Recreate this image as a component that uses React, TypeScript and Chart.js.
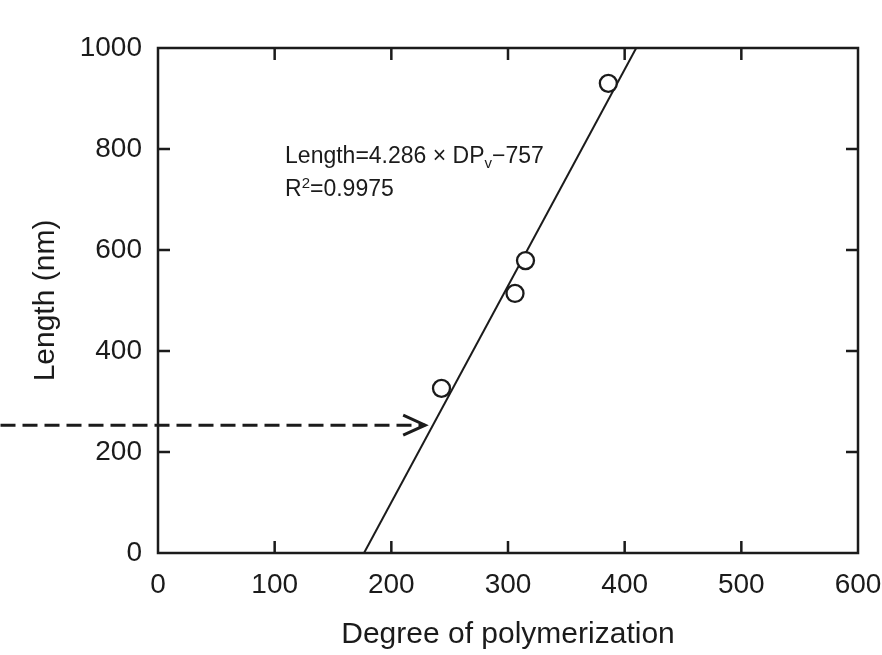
import React, { useEffect, useRef } from 'react';
import { Chart, registerables } from 'chart.js';

Chart.register(...registerables);

const FONT = '"Liberation Sans", Arial, Helvetica, sans-serif';
const INK = '#1b1b1b';

// Measured samples
const dpValues = [243, 306, 315, 386];
const lengthValues = [326, 514, 579, 930];

// Fitted line endpoints (Length = 4.286 × DPv − 757)
const fitX = [176.6, 409.9];
const fitY = [0, 1000];

// Dashed arrow (reading of 253 nm)
const arrowX = [-135, 229];
const arrowY = [253, 253];

// Tick values
const xTickValues = [0, 100, 200, 300, 400, 500, 600];
const yTickValues = [0, 200, 400, 600, 800, 1000];

// Annotation anchors (data coordinates)
const eqAnchor = { x: 108.9, y: 772 };
const r2Anchor = { x: 108.9, y: 706 };
const eqMain = 'Length=4.286 × DP';
const eqSub = 'v';
const eqTail = '−757';
const r2Main = 'R';
const r2Sup = '2';
const r2Tail = '=0.9975';

export default function App() {
  const ref = useRef<HTMLCanvasElement>(null);

  useEffect(() => {
    document.body.style.margin = '0';
    const canvas = ref.current;
    if (!canvas) return;

    const decorPlugin = {
      id: 'decor',
      afterDraw(chart: any) {
        const { ctx, chartArea: a, scales } = chart;
        const xs = scales.x;
        const ys = scales.y;
        const TL = 12;
        ctx.save();
        ctx.strokeStyle = INK;
        ctx.lineWidth = 2.5;
        ctx.setLineDash([]);
        ctx.strokeRect(a.left, a.top, a.right - a.left, a.bottom - a.top);
        ctx.beginPath();
        for (const v of xTickValues) {
          const px = xs.getPixelForValue(v);
          if (Math.abs(px - a.left) < 1 || Math.abs(px - a.right) < 1) continue;
          ctx.moveTo(px, a.bottom);
          ctx.lineTo(px, a.bottom - TL);
          ctx.moveTo(px, a.top);
          ctx.lineTo(px, a.top + TL);
        }
        for (const v of yTickValues) {
          const py = ys.getPixelForValue(v);
          if (Math.abs(py - a.top) < 1 || Math.abs(py - a.bottom) < 1) continue;
          ctx.moveTo(a.left, py);
          ctx.lineTo(a.left + TL, py);
          ctx.moveTo(a.right, py);
          ctx.lineTo(a.right - TL, py);
        }
        ctx.stroke();

        // arrow head
        const tx = xs.getPixelForValue(arrowX[1]);
        const ty = ys.getPixelForValue(arrowY[1]);
        ctx.lineWidth = 3;
        ctx.lineJoin = 'miter';
        ctx.beginPath();
        ctx.moveTo(tx - 22, ty - 10);
        ctx.lineTo(tx, ty);
        ctx.lineTo(tx - 22, ty + 10);
        ctx.stroke();

        // annotation text
        ctx.fillStyle = INK;
        ctx.textBaseline = 'alphabetic';
        ctx.textAlign = 'left';
        const big = `23px ${FONT}`;
        const small = `15px ${FONT}`;
        let x = xs.getPixelForValue(eqAnchor.x);
        let y = ys.getPixelForValue(eqAnchor.y);
        ctx.font = big;
        ctx.fillText(eqMain, x, y);
        x += ctx.measureText(eqMain).width;
        ctx.font = small;
        ctx.fillText(eqSub, x, y + 5);
        x += ctx.measureText(eqSub).width;
        ctx.font = big;
        ctx.fillText(eqTail, x, y);

        x = xs.getPixelForValue(r2Anchor.x);
        y = ys.getPixelForValue(r2Anchor.y);
        ctx.font = big;
        ctx.fillText(r2Main, x, y);
        x += ctx.measureText(r2Main).width;
        ctx.font = small;
        ctx.fillText(r2Sup, x, y - 8);
        x += ctx.measureText(r2Sup).width;
        ctx.font = big;
        ctx.fillText(r2Tail, x, y);
        ctx.restore();
      },
    };

    const chart = new Chart(canvas, {
      type: 'scatter',
      data: {
        datasets: [
          {
            label: 'samples',
            data: dpValues.map((v, i) => ({ x: v, y: lengthValues[i] })),
            pointRadius: 8.5,
            pointHoverRadius: 8.5,
            pointBorderWidth: 2.3,
            borderColor: INK,
            backgroundColor: '#ffffff',
            pointBackgroundColor: '#ffffff',
            pointBorderColor: INK,
          },
          {
            label: 'fit',
            data: fitX.map((v, i) => ({ x: v, y: fitY[i] })),
            showLine: true,
            pointRadius: 0,
            borderColor: INK,
            borderWidth: 2,
          },
          {
            label: 'arrow',
            data: arrowX.map((v, i) => ({ x: v, y: arrowY[i] })),
            showLine: true,
            pointRadius: 0,
            borderColor: INK,
            borderWidth: 3,
            borderDash: [15, 7],
            clip: false as any,
          },
        ],
      },
      options: {
        animation: false,
        responsive: false,
        events: [],
        layout: { padding: { left: 0, top: 48, right: 24, bottom: 0 } },
        plugins: { legend: { display: false }, tooltip: { enabled: false } },
        scales: {
          x: {
            type: 'linear',
            min: 0,
            max: 600,
            afterBuildTicks: (s: any) => {
              s.ticks = xTickValues.map((v) => ({ value: v }));
            },
            afterFit: (s: any) => {
              s.height = 102;
              s.paddingLeft = 0;
              s.paddingRight = 0;
            },
            grid: { display: false, drawTicks: false },
            border: { display: false },
            ticks: {
              padding: 15,
              color: INK,
              font: { size: 28, family: FONT },
              callback: (v: any) => String(v),
            },
            title: {
              display: true,
              text: 'Degree of polymerization',
              color: INK,
              font: { size: 30, family: FONT },
              padding: { top: 0, bottom: 2 },
            },
          },
          y: {
            type: 'linear',
            min: 0,
            max: 1000,
            afterBuildTicks: (s: any) => {
              s.ticks = yTickValues.map((v) => ({ value: v }));
            },
            afterFit: (s: any) => {
              s.width = 158;
              s.paddingTop = 0;
              s.paddingBottom = 0;
            },
            grid: { display: false, drawTicks: false },
            border: { display: false },
            ticks: {
              padding: 16,
              color: INK,
              font: { size: 28, family: FONT },
              callback: (v: any) => String(v),
            },
            title: {
              display: true,
              text: 'Length (nm)',
              color: INK,
              font: { size: 30, family: FONT },
              padding: { top: 28, bottom: 0 },
            },
          },
        },
      },
      plugins: [decorPlugin],
    });

    return () => chart.destroy();
  }, []);

  return (
    <div style={{ width: 882, height: 655, background: '#ffffff' }}>
      <canvas ref={ref} width={882} height={655} style={{ display: 'block' }} />
    </div>
  );
}
